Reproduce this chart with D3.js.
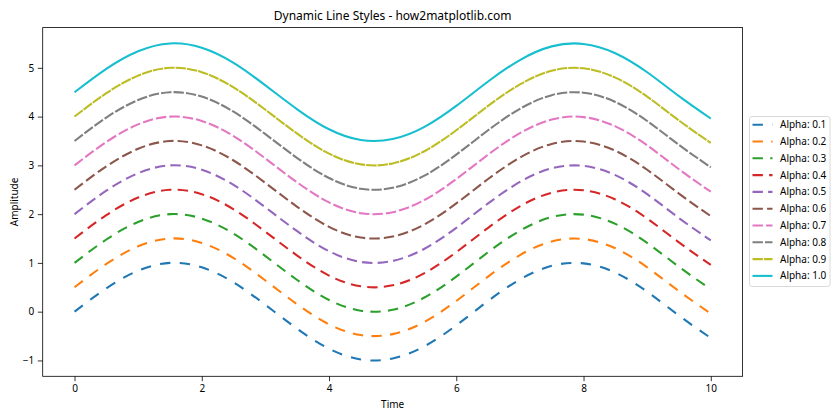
<!DOCTYPE html>
<html>
<head>
<meta charset="utf-8">
<script src="https://cdn.jsdelivr.net/npm/d3@7"></script>
<style>
  html, body { margin: 0; padding: 0; background: #fff; }
  svg { display: block; }
  text { font-family: "Noto Sans", "Open Sans", sans-serif; fill: #000; }
</style>
</head>
<body>
<svg id="chart" width="840" height="420"></svg>
<script>
// ---------- data ----------
const xValues = [0, 0.5, 1, 1.5, 2, 2.5, 3, 3.5, 4, 4.5, 5, 5.5, 6, 6.5, 7, 7.5, 8, 8.5, 9, 9.5, 10];

const seriesLabels = ["Alpha: 0.1", "Alpha: 0.2", "Alpha: 0.3", "Alpha: 0.4", "Alpha: 0.5",
                      "Alpha: 0.6", "Alpha: 0.7", "Alpha: 0.8", "Alpha: 0.9", "Alpha: 1.0"];
const alphas = [0.1, 0.2, 0.3, 0.4, 0.5, 0.6, 0.7, 0.8, 0.9, 1.0];

const s01 = [0, 0.48, 0.84, 1.0, 0.91, 0.6, 0.14, -0.35, -0.76, -0.98, -0.96, -0.71, -0.28, 0.22, 0.66, 0.94, 0.99, 0.8, 0.41, -0.08, -0.54];
const s02 = [0.5, 0.98, 1.34, 1.5, 1.41, 1.1, 0.64, 0.15, -0.26, -0.48, -0.46, -0.21, 0.22, 0.72, 1.16, 1.44, 1.49, 1.3, 0.91, 0.42, -0.04];
const s03 = [1, 1.48, 1.84, 2.0, 1.91, 1.6, 1.14, 0.65, 0.24, 0.02, 0.04, 0.29, 0.72, 1.22, 1.66, 1.94, 1.99, 1.8, 1.41, 0.92, 0.46];
const s04 = [1.5, 1.98, 2.34, 2.5, 2.41, 2.1, 1.64, 1.15, 0.74, 0.52, 0.54, 0.79, 1.22, 1.72, 2.16, 2.44, 2.49, 2.3, 1.91, 1.42, 0.96];
const s05 = [2, 2.48, 2.84, 3.0, 2.91, 2.6, 2.14, 1.65, 1.24, 1.02, 1.04, 1.29, 1.72, 2.22, 2.66, 2.94, 2.99, 2.8, 2.41, 1.92, 1.46];
const s06 = [2.5, 2.98, 3.34, 3.5, 3.41, 3.1, 2.64, 2.15, 1.74, 1.52, 1.54, 1.79, 2.22, 2.72, 3.16, 3.44, 3.49, 3.3, 2.91, 2.42, 1.96];
const s07 = [3, 3.48, 3.84, 4.0, 3.91, 3.6, 3.14, 2.65, 2.24, 2.02, 2.04, 2.29, 2.72, 3.22, 3.66, 3.94, 3.99, 3.8, 3.41, 2.92, 2.46];
const s08 = [3.5, 3.98, 4.34, 4.5, 4.41, 4.1, 3.64, 3.15, 2.74, 2.52, 2.54, 2.79, 3.22, 3.72, 4.16, 4.44, 4.49, 4.3, 3.91, 3.42, 2.96];
const s09 = [4, 4.48, 4.84, 5.0, 4.91, 4.6, 4.14, 3.65, 3.24, 3.02, 3.04, 3.29, 3.72, 4.22, 4.66, 4.94, 4.99, 4.8, 4.41, 3.92, 3.46];
const s10 = [4.5, 4.98, 5.34, 5.5, 5.41, 5.1, 4.64, 4.15, 3.74, 3.52, 3.54, 3.79, 4.22, 4.72, 5.16, 5.44, 5.49, 5.3, 4.91, 4.42, 3.96];
const seriesValues = [s01, s02, s03, s04, s05, s06, s07, s08, s09, s10];

const xTicks = [0, 2, 4, 6, 8, 10];
const yTicks = [-1, 0, 1, 2, 3, 4, 5];

const colors = ["#1f77b4", "#ff7f0e", "#2ca02c", "#d62728", "#9467bd",
                "#8c564b", "#e377c2", "#7f7f7f", "#bcbd22", "#17becf"];

// ---------- layout ----------
const svg = d3.select("#chart");
const mLeft = 42.7, mRight = 742.6, mTop = 27.6, mBottom = 376.3;

const x = d3.scaleLinear().domain([-0.5, 10.5]).range([mLeft, mRight]);
const y = d3.scaleLinear().domain([-1.325, 5.825]).range([mBottom, mTop]);

const DASH = 10.4;
function dashFor(a) {
  const gap = DASH * (1 - a);
  return gap < 0.01 ? null : `${DASH},${gap.toFixed(2)}`;
}

// lines
const line = d3.line().x(d => x(d[0])).y(d => y(d[1])).curve(d3.curveNatural);
const g = svg.append("g");
seriesValues.forEach((vals, i) => {
  const pts = xValues.map((xv, j) => [xv, vals[j]]);
  g.append("path")
    .attr("d", line(pts))
    .attr("fill", "none")
    .attr("stroke", colors[i])
    .attr("stroke-width", 2.08)
    .attr("stroke-linecap", "butt")
    .attr("stroke-dasharray", dashFor(alphas[i]));
});

// axes
const xAxis = d3.axisBottom(x).tickValues(xTicks).tickFormat(d3.format("d")).tickSize(4.9).tickPadding(3.5);
const yAxis = d3.axisLeft(y).tickValues(yTicks).tickFormat(d => d < 0 ? "\u2212" + Math.abs(d) : d).tickSize(4.9).tickPadding(3.5);

const gx = svg.append("g").attr("transform", `translate(0,${mBottom})`).call(xAxis);
const gy = svg.append("g").attr("transform", `translate(${mLeft},0)`).call(yAxis);
[gx, gy].forEach(a => {
  a.select(".domain").remove();
  a.selectAll(".tick line").attr("stroke", "#000").attr("stroke-width", 0.8);
  a.selectAll(".tick text").style("font-size", "10px").attr("fill", "#000");
});

// frame
svg.append("rect")
  .attr("x", mLeft).attr("y", mTop)
  .attr("width", mRight - mLeft).attr("height", mBottom - mTop)
  .attr("fill", "none").attr("stroke", "#000").attr("stroke-width", 0.8);

// title and labels
svg.append("text").attr("x", (mLeft + mRight) / 2).attr("y", 19.5)
  .attr("text-anchor", "middle").style("font-size", "12px")
  .text("Dynamic Line Styles - how2matplotlib.com");
svg.append("text").attr("x", (mLeft + mRight) / 2).attr("y", 408)
  .attr("text-anchor", "middle").style("font-size", "10px").text("Time");
svg.append("text").attr("transform", `translate(18,${(mTop + mBottom) / 2}) rotate(-90)`)
  .attr("text-anchor", "middle").style("font-size", "10px").text("Amplitude");

// legend
const lg = svg.append("g");
lg.append("rect").attr("x", 749.5).attr("y", 116.5).attr("width", 80.5).attr("height", 170)
  .attr("rx", 2.5).attr("fill", "#fff").attr("fill-opacity", 0.8)
  .attr("stroke", "#d0d0d0").attr("stroke-width", 0.8);
seriesLabels.forEach((lab, i) => {
  const yy = 124.7 + i * 16.8;
  lg.append("line").attr("x1", 752.5).attr("x2", 772.5).attr("y1", yy).attr("y2", yy)
    .attr("stroke", colors[i]).attr("stroke-width", 2.08)
    .attr("stroke-dasharray", dashFor(alphas[i]));
  lg.append("text").attr("x", 780).attr("y", yy).attr("dy", "0.35em")
    .style("font-size", "10px").text(lab);
});
</script>
</body>
</html>
